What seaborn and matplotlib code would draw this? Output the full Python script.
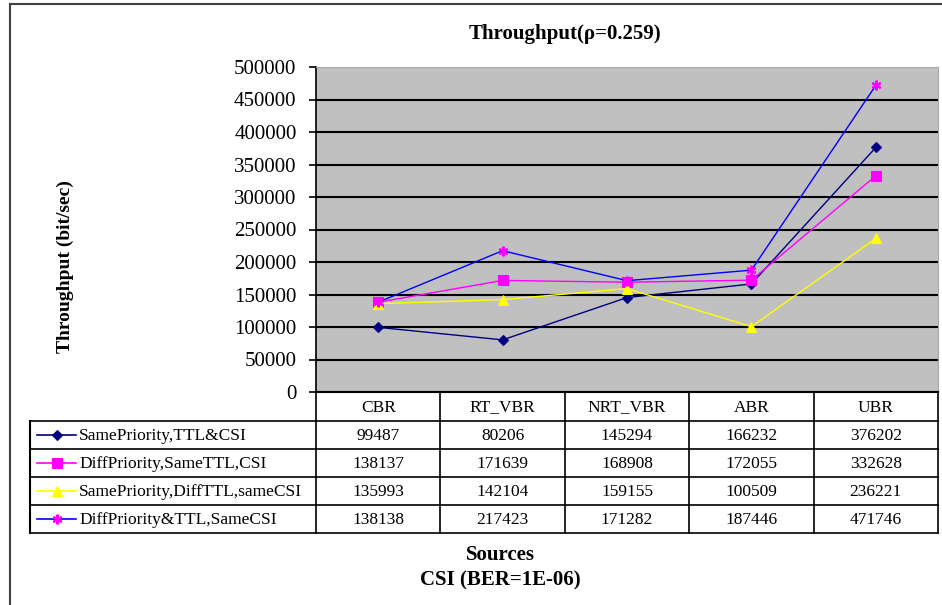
import numpy as np
import pandas as pd
import matplotlib
matplotlib.use("Agg")
import matplotlib.pyplot as plt
import seaborn as sns

# categories on the x axis (one column of the data table each)
sources = ["CBR", "RT_VBR", "NRT_VBR", "ABR", "UBR"]
# series names, as in the legend column of the data table
series_names = ["SamePriority,TTL&CSI", "DiffPriority,SameTTL,CSI",
                "SamePriority,DiffTTL,sameCSI", "DiffPriority&TTL,SameCSI"]
# throughput values (bit/sec)
same_prio_ttl_csi = [99487, 80206, 145294, 166232, 376202]
diff_prio_same_ttl = [138137, 171639, 168908, 172055, 332628]
same_prio_diff_ttl = [135993, 142104, 159155, 100509, 236221]
diff_prio_ttl_same = [138138, 217423, 171282, 187446, 471746]
yticks = list(range(0, 500001, 50000))

all_values = [same_prio_ttl_csi, diff_prio_same_ttl, same_prio_diff_ttl, diff_prio_ttl_same]

# Excel-ish styling
line_colors = ["#000080", "#FF00FF", "#FFFF00", "#0000FF"]
marker_colors = ["#000080", "#FF00FF", "#FFFF00", "#FF00FF"]
marker_shapes = ["D", "s", "^", (6, 2, 0)]
marker_sizes = [5, 6.5, 7, 7]

plt.rcParams['font.family'] = ['Liberation Serif', 'DejaVu Serif']

rows = []
for name, vals in zip(series_names, all_values):
    for src, v in zip(sources, vals):
        rows.append((src, name, v))
df = pd.DataFrame(rows, columns=["Source", "Series", "Throughput"])

W, H = 942, 605
fig = plt.figure(figsize=(W / 100, H / 100), dpi=100)

# plot area (pixel box 316..938 x 67..392)
pl, pr, pt, pb = 316, 938, 67, 392
ax = fig.add_axes([pl / W, 1 - pb / H, (pr - pl) / W, (pb - pt) / H])
ax.set_facecolor("#C0C0C0")

# seaborn won't mix filled and line-art markers, so the star is swapped in afterwards
sns.lineplot(data=df, x="Source", y="Throughput", hue="Series", style="Series",
             hue_order=series_names, style_order=series_names,
             palette=dict(zip(series_names, line_colors)),
             markers=dict(zip(series_names, ["D", "s", "^", "X"])), dashes=False,
             sort=False, errorbar=None, legend=False, linewidth=1.0, ax=ax)

hex_lines = [x.upper() for x in line_colors]
for line in ax.lines:
    c = matplotlib.colors.to_hex(line.get_color()).upper()
    if c in hex_lines:
        i = hex_lines.index(c)
        line.set_marker(marker_shapes[i])
        line.set_markerfacecolor(marker_colors[i])
        line.set_markeredgecolor(marker_colors[i])
        line.set_markersize(marker_sizes[i])
        line.set_markeredgewidth(1.5 if i == 3 else 0.8)
        line.set_zorder(5)

ax.set_xlim(-0.5, len(sources) - 0.5)
ax.set_ylim(0, 500000)
ax.set_yticks(yticks)
ax.set_yticklabels([str(t) for t in yticks])
ax.set_xticks([])
ax.set_xlabel("")
ax.set_ylabel("")
ax.yaxis.grid(True, color="black", linewidth=1.5)
ax.get_ygridlines()[-1].set_visible(False)
ax.set_axisbelow(True)
ax.tick_params(axis='y', length=5, width=1.2, direction='out', pad=9, labelsize=15)
ax.spines['left'].set_linewidth(1.2)
ax.spines['bottom'].set_linewidth(1.5)
ax.spines['top'].set_color("#A8A8A8")
ax.spines['right'].set_color("#A8A8A8")

# overlay in pixel coordinates for the data table and texts
tab = fig.add_axes([0, 0, 1, 1], zorder=-1)
tab.set_xlim(0, W)
tab.set_ylim(H, 0)
tab.axis("off")

# outer frame of the chart
tab.plot([10, 10], [H, 4], color="#404040", lw=1.5)
tab.plot([10, W], [4, 4], color="#404040", lw=1.5)

col_edges = np.linspace(pl, pr, len(sources) + 1)
head_top, head_bot = pb, 421
row_edges = np.linspace(head_bot, 533, len(series_names) + 1)
tab_left = 30

for x in col_edges:
    tab.plot([x, x], [head_top, row_edges[-1]], color="black", lw=1.2)
tab.plot([tab_left, tab_left], [head_bot, row_edges[-1]], color="black", lw=1.5)
for y in row_edges:
    tab.plot([tab_left, pr], [y, y], color="black", lw=1.2)

for j, src in enumerate(sources):
    xc = (col_edges[j] + col_edges[j + 1]) / 2
    tab.text(xc, (head_top + head_bot) / 2 + 1, src, ha="center", va="center", fontsize=12.5)
    for i, vals in enumerate(all_values):
        yc = (row_edges[i] + row_edges[i + 1]) / 2 + 1
        tab.text(xc, yc, str(vals[j]), ha="center", va="center", fontsize=12.5)

for i, name in enumerate(series_names):
    yc = (row_edges[i] + row_edges[i + 1]) / 2
    tab.plot([37, 76], [yc, yc], color=line_colors[i], lw=1.2)
    tab.plot([56.5], [yc], linestyle="none", marker=marker_shapes[i],
             markersize=marker_sizes[i], color=marker_colors[i],
             markeredgewidth=1.5 if i == 3 else 0.8)
    tab.text(79, yc + 1, name, ha="left", va="center", fontsize=12.5)

tab.text(565, 34, "Throughput(ρ=0.259)", ha="center", va="center",
         fontsize=15, fontweight="bold")
tab.text(65, 267, "Throughput (bit/sec)", ha="center", va="center",
         rotation=90, fontsize=14, fontweight="bold")
tab.text(500, 555, "Sources", ha="center", va="center", fontsize=15, fontweight="bold")
tab.text(500, 580, "CSI (BER=1E-06)", ha="center", va="center", fontsize=15, fontweight="bold")

fig.savefig("out.png", dpi=100)
